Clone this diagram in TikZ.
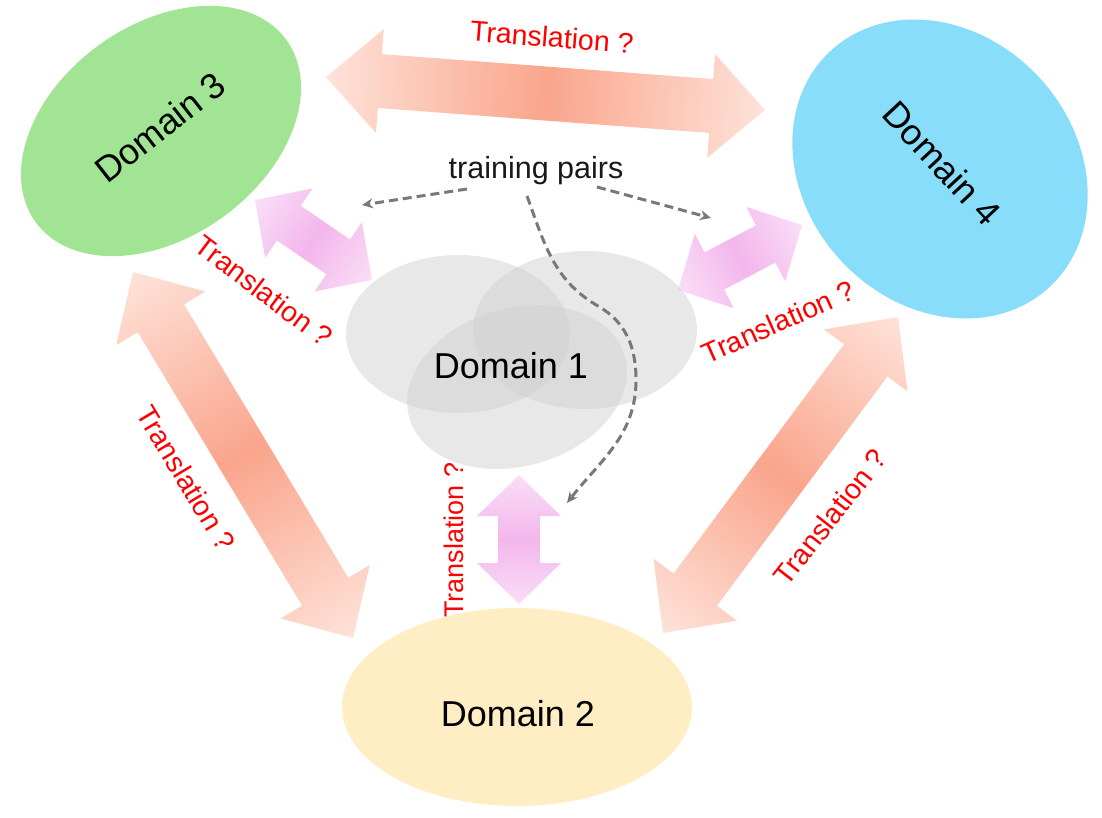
\documentclass[tikz,border=0pt]{standalone}
\usepackage{fontspec}
\setmainfont{Liberation Sans}
\usetikzlibrary{arrows.meta,shapes.geometric}
\definecolor{dthree}{RGB}{161,229,148}
\definecolor{dfour}{RGB}{135,221,250}
\definecolor{dtwo}{RGB}{255,237,196}
\definecolor{done}{RGB}{208,208,208}
\definecolor{salI}{RGB}{250,165,140}
\definecolor{salO}{RGB}{254,226,217}
\definecolor{pnkI}{RGB}{243,182,236}
\definecolor{pnkO}{RGB}{250,222,247}
\definecolor{trred}{RGB}{255,0,0}
\definecolor{dgray}{RGB}{120,120,120}
% fat double arrow: x1 y1 x2 y2 shaft headwidth headlength shade-style (pixel coords, y down)
\newcommand\fatdarrow[8]{%
  \pgfmathsetmacro\fcx{(#1+#3)/2}%
  \pgfmathsetmacro\fcy{-(#2+#4)/2}%
  \pgfmathsetmacro\fang{atan2(-(#4-#2),#3-#1)}%
  \pgfmathsetmacro\fhl{veclen(#3-#1,#4-#2)/2}%
  \pgfmathsetmacro\fs{#5/2}%
  \pgfmathsetmacro\fh{#6/2}%
  \pgfmathsetmacro\fb{\fhl-#7}%
  \begin{scope}[transform canvas={shift={(\fcx pt,\fcy pt)},rotate=\fang}]
    \shade[#8] (-\fhl pt,0pt) -- (-\fb pt,\fh pt) -- (-\fb pt,\fs pt) -- (\fb pt,\fs pt)
      -- (\fb pt,\fh pt) -- (\fhl pt,0pt) -- (\fb pt,-\fh pt) -- (\fb pt,-\fs pt)
      -- (-\fb pt,-\fs pt) -- (-\fb pt,-\fh pt) -- cycle;
  \end{scope}}
\tikzset{
  salshade/.style={left color=salO, right color=salO, middle color=salI},
  pnkshade/.style={left color=pnkO, right color=pnkO, middle color=pnkI},
  dom/.style={ellipse, inner sep=0pt, draw=none},
  cloud/.style={ellipse, inner sep=0pt, fill=done, fill opacity=0.49, minimum width=224pt, minimum height=158pt},
  dtext/.style={font=\fontsize{36}{40}\selectfont, text=black, inner sep=0pt},
  lab/.style={font=\fontsize{28.5}{32}\selectfont, text=trred, inner sep=0pt},
  tptext/.style={font=\fontsize{30.5}{34}\selectfont, text=black!90, inner sep=0pt},
  dashl/.style={draw=dgray, line width=3pt, dash pattern=on 9pt off 5pt, -{Stealth[length=11pt,width=10pt]}}
}
\begin{document}
\begin{tikzpicture}[x=1pt,y=-1pt]
\useasboundingbox (0,0) rectangle (1102,817);
% fat translation arrows
\fatdarrow{326}{77}{765}{110}{54}{104}{54}{salshade}
\fatdarrow{133}{272}{353}{638}{54}{104}{54}{salshade}
\fatdarrow{898}{317}{663}{633}{54}{104}{54}{salshade}
\fatdarrow{255}{200}{372}{280}{42}{84}{41}{pnkshade}
\fatdarrow{678}{290}{802}{225}{42}{84}{41}{pnkshade}
\fatdarrow{519}{475}{519}{604}{42}{84}{41}{pnkshade}
% domains
\node[dom, fill=dthree, minimum width=310pt, minimum height=212pt, rotate=36] (d3) at (161,131) {};
\node[dom, fill=dfour, minimum width=322pt, minimum height=270pt, rotate=-47] (d4) at (940,169) {};
\node[dom, fill=dtwo, minimum width=350pt, minimum height=198pt] (d2) at (517,707) {};
\node[cloud] (d1a) at (458,334) {};
\node[cloud] (d1b) at (585,330) {};
\node[cloud, rotate=16] (d1c) at (517,387) {};
% domain labels
\node[dtext] (d1t) at (511,366) {Domain 1};
\node[dtext] (d2t) at (518,714) {Domain 2};
\node[dtext, rotate=38] (d3t) at (160,127) {Domain 3};
\node[dtext, rotate=-47] (d4t) at (942,163) {Domain 4};
% translation labels
\node[lab, rotate=-4.5] (l34) at (552,37) {Translation ?};
\node[lab, rotate=-37] (l13) at (264,291) {Translation ?};
\node[lab, rotate=24] (l14) at (778,322) {Translation ?};
\node[lab, rotate=-59] (l23) at (186,478) {Translation ?};
\node[lab, rotate=90, font=\fontsize{27}{30}\selectfont] (l12) at (454,540) {Translation ?};
\node[lab, rotate=52] (l24) at (830,517) {Translation ?};
% training pairs
\node[tptext, anchor=base] (tp) at (536,178) {training pairs};
\coordinate (tpl) at (467,189);
\coordinate (tpr) at (597,187);
\coordinate (tpm) at (527,196);
\coordinate (e1) at (362,205);
\coordinate (e2) at (711,218);
\coordinate (c1) at (598,306);
\coordinate (c2) at (636,380);
\coordinate (e3) at (567,503);
\draw[dashl] (tpl) -- (e1);
\draw[dashl] (tpr) -- (e2);
\draw[dashl] (tpm) to[out=-70,in=150] (c1) to[out=-30,in=90] (c2) to[out=-90,in=52] (e3);
\end{tikzpicture}
\end{document}
